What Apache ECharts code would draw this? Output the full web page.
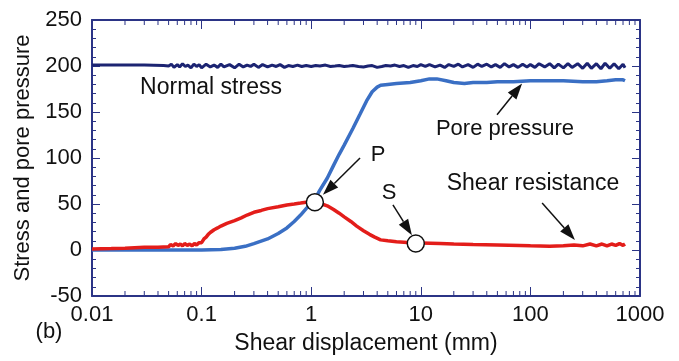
<!DOCTYPE html>
<html>
<head>
<meta charset="utf-8">
<script src="https://cdn.jsdelivr.net/npm/echarts@6/dist/echarts.min.js"></script>
<style>
html,body{margin:0;padding:0;background:#fff;}
#chart{width:679px;height:361px;}
</style>
</head>
<body>
<div id="chart"></div>
<script>
// ---- data ----
const xTickLabels = ['0.01','0.1','1','10','100','1000'];
const yTickValues = [-50, 0, 50, 100, 150, 200, 250];

const normalX = [0.01,0.02,0.03,0.045,0.05,0.053,0.056,0.06,0.063,0.067,0.071,0.075,0.08,0.085,0.09,0.095,0.1,0.11,0.12,0.13,0.14,0.15,0.16,0.18,0.2,0.22,0.24,0.26,0.28,0.3,0.33,0.36,0.4,0.44,0.48,0.52,0.57,0.62,0.68,0.75,0.82,0.9,1,1.1,1.2,1.35,1.5,1.65,1.8,2,2.2,2.4,2.7,3,3.3,3.6,4,4.4,4.8,5.3,5.8,6.4,7,7.7,8.5,9.3,10,11,12,13.5,15,16.5,18,20,22,24,27,30,33,36,40,44,48,53,58,64,70,77,85,93,100,110,120,135,150,165,180,200,220,240,270,300,330,360,400,440,480,530,580,640,700,730];
const normalY = [201,201,201,200.5,200,202,198.5,201.5,199,202.5,199.5,201,198,202,199.5,201.5,198,202,199,201,198.5,202,199,201.5,198,202,199,201,199.5,202,198.5,201.5,199,201,199.5,201.5,198.5,200.5,199.5,201,199.5,200.5,199.5,200.5,200,201,199.5,200,200.5,199.5,200,200.5,199.5,199,200,200.5,198.5,199.5,200.5,200,201,199.5,200.5,198.5,200.5,199.5,201.5,199.5,201.5,199,201,198.5,201.5,199.5,202,199,201.5,198.5,202,199.5,202,199,201.5,198.5,202.5,199,201.5,198.5,202,199,201.5,198.5,202.5,199,202.5,198,202,198,202.5,198.5,202.5,197.5,203,197.5,202.5,197,203,197.5,202.5,197,202,198];

const poreX = [0.01,0.05,0.1,0.15,0.2,0.25,0.3,0.4,0.5,0.6,0.7,0.8,0.9,1,1.1,1.2,1.4,1.6,1.8,2,2.4,2.8,3.2,3.6,4,4.3,5,6,8,10,12,14,17,20,25,30,40,50,70,100,150,200,300,400,500,600,700,730];
const poreY = [0,0,0,0.5,2,4,7,12,18,24,31,38,45,51,57,65,78,92,104,114,132,148,162,172,177,179,180,181,182,184,186,186,184,182,181,182,182,183,183,184,184,184,183,183,184,185,185,184];

const shearX = [0.01,0.015,0.02,0.03,0.04,0.05,0.052,0.055,0.058,0.061,0.064,0.067,0.07,0.074,0.078,0.082,0.086,0.09,0.095,0.1,0.105,0.11,0.115,0.12,0.13,0.14,0.15,0.17,0.2,0.23,0.26,0.3,0.35,0.4,0.5,0.6,0.7,0.8,0.9,1,1.1,1.25,1.4,1.6,1.8,2,2.3,2.6,3,3.4,3.8,4.3,5,6,7,8,9,10,15,20,30,50,80,100,150,200,250,300,350,400,450,500,550,600,650,700,730];
const shearY = [1,1.5,2,3,3,3.5,6,4.5,7,5,6.5,4.5,7,5,6.5,4.5,7,5.5,8,8,12,14,17,19,22,24,26,29,32,35,38,41,43,45,47,49,50,51,52,52,52,50,48,44,40,36,31,26,21,17,14,11,10,9,8.5,8,7.5,7.5,7,6.5,6,5.5,5,4.5,4,4.5,5.5,4.5,6.5,4.5,6.5,4.5,6.5,5,7,5,6.5];

const pointNames = ['P','S'];
const pointX = [1.08, 9.0];
const pointY = [52, 7];

// arrows: [x start, y start, x tip, y tip] in data units
const arrowStartX = [2.79, 5.57, 49.6, 128];
const arrowStartY = [100, 49, 147, 51];
const arrowTipX = [1.28, 8.3, 84, 255];
const arrowTipY = [60, 16, 181, 11];

const minorTickX = [0.02,0.03,0.04,0.05,0.06,0.07,0.08,0.09,0.2,0.3,0.4,0.5,0.6,0.7,0.8,0.9,2,3,4,5,6,7,8,9,20,30,40,50,60,70,80,90,200,300,400,500,600,700,800,900];

// ---- build ----
const zip = (a, b) => a.map((v, i) => [v, b[i]]);
const axisColor = '#2b3486';
const font = '"Liberation Sans", Arial, sans-serif';

const chart = echarts.init(document.getElementById('chart'), null, {renderer: 'canvas'});

const xBase = {
  type: 'log', logBase: 10, min: 0.01, max: 1000,
  axisLine: {show: true, onZero: false, lineStyle: {color: axisColor, width: 2}},
  axisTick: {show: true, inside: true, length: 9, lineStyle: {color: axisColor, width: 1}},
  minorTick: {show: false},
  splitLine: {show: false},
  minorSplitLine: {show: false}
};
const yBase = {
  type: 'value', min: -50, max: 250, interval: 50,
  axisLine: {show: true, onZero: false, lineStyle: {color: axisColor, width: 2}},
  axisTick: {show: true, inside: true, length: 8, lineStyle: {color: axisColor, width: 1}},
  minorTick: {show: true, splitNumber: 5, length: 4, lineStyle: {color: axisColor, width: 1}},
  splitLine: {show: false},
  minorSplitLine: {show: false}
};

const option = {
  animation: false,
  backgroundColor: '#ffffff',
  grid: {left: 92, right: 39, top: 20, bottom: 65, containLabel: false},
  xAxis: [
    Object.assign({}, xBase, {
      position: 'bottom',
      name: 'Shear displacement (mm)', nameLocation: 'middle', nameGap: 36,
      nameTextStyle: {fontFamily: font, fontSize: 23, color: '#111'},
      axisLabel: {
        show: true, margin: 8, fontFamily: font, fontSize: 22, color: '#111',
        showMinLabel: true, showMaxLabel: true,
        formatter: v => xTickLabels[Math.round(Math.log10(v)) + 2]
      }
    }),
    Object.assign({}, xBase, {position: 'top', axisLabel: {show: false}})
  ],
  yAxis: [
    Object.assign({}, yBase, {
      position: 'left',
      name: 'Stress and pore pressure', nameLocation: 'middle', nameGap: 56,
      nameTextStyle: {fontFamily: font, fontSize: 22, color: '#111'},
      axisLabel: {
        show: true, margin: 10, fontFamily: font, fontSize: 22, color: '#111',
        formatter: v => String(yTickValues[yTickValues.indexOf(v)])
      }
    }),
    Object.assign({}, yBase, {position: 'right', axisLabel: {show: false}})
  ],
  series: [
    {
      type: 'line', name: 'Normal stress', data: zip(normalX, normalY),
      showSymbol: false, symbol: 'none', smooth: false,
      lineStyle: {color: '#1c2472', width: 3}, z: 3
    },
    {
      type: 'line', name: 'Pore pressure', data: zip(poreX, poreY),
      showSymbol: false, symbol: 'none',
      lineStyle: {color: '#3a6fc4', width: 3.5}, z: 3
    },
    {
      type: 'line', name: 'Shear resistance', data: zip(shearX, shearY),
      showSymbol: false, symbol: 'none',
      lineStyle: {color: '#e31d1a', width: 3.5}, z: 4
    },
    {
      type: 'custom', name: 'minorTicks', silent: true, clip: false,
      data: minorTickX.map(v => [v, 0]),
      encode: {x: 0, y: 1},
      renderItem: (params, api) => {
        const x = api.value(0);
        const b = api.coord([x, -50]);
        const t = api.coord([x, 250]);
        const st = {stroke: axisColor, lineWidth: 1};
        return {type: 'group', children: [
          {type: 'line', shape: {x1: b[0], y1: b[1], x2: b[0], y2: b[1] - 5}, style: st},
          {type: 'line', shape: {x1: t[0], y1: t[1], x2: t[0], y2: t[1] + 5}, style: st}
        ]};
      },
      z: 2
    },
    {
      type: 'custom', name: 'arrows', silent: true, clip: false,
      data: arrowStartX.map((v, i) => [v, arrowStartY[i], arrowTipX[i], arrowTipY[i]]),
      encode: {x: [0, 2], y: [1, 3]},
      renderItem: (params, api) => {
        const p1 = api.coord([api.value(0), api.value(1)]);
        const p2 = api.coord([api.value(2), api.value(3)]);
        const dx = p2[0] - p1[0], dy = p2[1] - p1[1];
        const len = Math.sqrt(dx * dx + dy * dy);
        const ux = dx / len, uy = dy / len;
        const L = 16, w = 5.5;
        const bx = p2[0] - ux * L, by = p2[1] - uy * L;
        return {type: 'group', children: [
          {type: 'line', shape: {x1: p1[0], y1: p1[1], x2: bx, y2: by},
           style: {stroke: '#111', lineWidth: 1.5}},
          {type: 'polygon', shape: {points: [[p2[0], p2[1]], [bx - uy * w, by + ux * w], [bx + uy * w, by - ux * w]]},
           style: {fill: '#111'}}
        ]};
      },
      z: 6
    },
    {
      type: 'scatter', name: 'points', data: zip(pointX, pointY),
      symbol: 'circle', symbolSize: 17,
      itemStyle: {color: '#ffffff', borderColor: '#111', borderWidth: 1.5, opacity: 1},
      z: 7
    }
  ],
  graphic: [
    {type: 'text', x: 211, y: 88, style: {text: 'Normal stress', font: '23px ' + font, fill: '#111', textAlign: 'center', textVerticalAlign: 'middle'}},
    {type: 'text', x: 505, y: 129, style: {text: 'Pore pressure', font: '22px ' + font, fill: '#111', textAlign: 'center', textVerticalAlign: 'middle'}},
    {type: 'text', x: 533, y: 184, style: {text: 'Shear resistance', font: '23px ' + font, fill: '#111', textAlign: 'center', textVerticalAlign: 'middle'}},
    {type: 'text', x: 378, y: 155, style: {text: pointNames[0], font: '22px ' + font, fill: '#111', textAlign: 'center', textVerticalAlign: 'middle'}},
    {type: 'text', x: 389, y: 193, style: {text: pointNames[1], font: '22px ' + font, fill: '#111', textAlign: 'center', textVerticalAlign: 'middle'}},
    {type: 'text', x: 49, y: 332, style: {text: '(b)', font: '22px ' + font, fill: '#111', textAlign: 'center', textVerticalAlign: 'middle'}}
  ]
};
chart.setOption(option);
</script>
</body>
</html>
